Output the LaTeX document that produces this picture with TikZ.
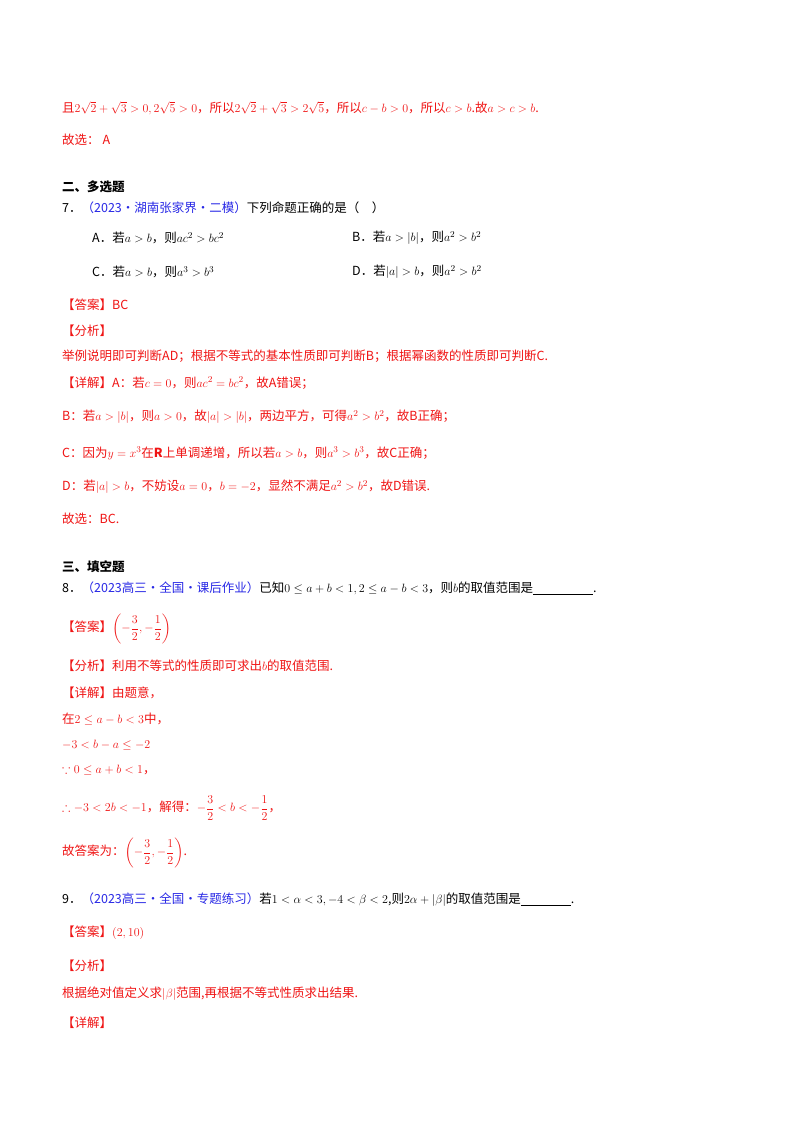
\documentclass[tikz,border=0pt]{standalone}
\usepackage{fontspec}
\setmainfont{Noto Sans CJK SC}
\newfontfamily\cjkb[BoldFont={Noto Sans CJK SC Bold}]{Noto Sans CJK SC}
\usepackage{amsmath,amssymb}
\definecolor{rd}{RGB}{240,20,20}
\definecolor{bl}{RGB}{40,40,230}
\begin{document}
\begin{tikzpicture}[x=1pt,y=1pt,
  ln/.style={anchor=west,inner sep=0pt,font=\fontsize{12.5}{14}\selectfont},
  r/.style={ln,text=rd}]
\useasboundingbox (0,0) rectangle (800,1132);
\fill[white] (0,0) rectangle (800,1132);
\newcommand\Y[1]{1132-#1}
\node[r] (l1) at (62,\Y{108}) {且$2\sqrt2+\sqrt3>0,2\sqrt5>0$，所以$2\sqrt2+\sqrt3>2\sqrt5$，所以$c-b>0$，所以$c>b$.故$a>c>b$.};
\node[r] (l2) at (62,\Y{140}) {故选：\ A};
\node[ln] (h2) at (62,\Y{187}) {\bfseries 二、多选题};
\node[ln] (q7) at (62,\Y{208}) {7．\textcolor{bl}{（2023·湖南张家界·二模）}下列命题正确的是（\quad ）};
\node[ln] (qa) at (92,\Y{238}) {A．若$a>b$，则$ac^2>bc^2$};
\node[ln] (qb) at (352,\Y{238}) {B．若$a>|b|$，则$a^2>b^2$};
\node[ln] (qc) at (92,\Y{272}) {C．若$a>b$，则$a^3>b^3$};
\node[ln] (qd) at (352,\Y{272}) {D．若$|a|>b$，则$a^2>b^2$};
\node[r] (a7) at (62,\Y{305}) {【答案】BC};
\node[r] (f7) at (62,\Y{331}) {【分析】};
\node[r] (f7b) at (62,\Y{356}) {举例说明即可判断AD；根据不等式的基本性质即可判断B；根据幂函数的性质即可判断C.};
\node[r] (d7) at (62,\Y{383}) {【详解】A：若$c=0$，则$ac^2=bc^2$，故A错误；};
\node[r] (d7b) at (62,\Y{417}) {B：若$a>|b|$，则$a>0$，故$|a|>|b|$，两边平方，可得$a^2>b^2$，故B正确；};
\node[r] (d7c) at (62,\Y{453}) {C：因为$y=x^3$在$\mathbf R$上单调递增，所以若$a>b$，则$a^3>b^3$，故C正确；};
\node[r] (d7d) at (62,\Y{487}) {D：若$|a|>b$，不妨设$a=0$，$b=-2$，显然不满足$a^2>b^2$，故D错误.};
\node[r] (s7) at (62,\Y{519}) {故选：BC.};
\node[ln] (h3) at (62,\Y{567}) {\bfseries 三、填空题};
\node[ln] (q8) at (62,\Y{588}) {8．\textcolor{bl}{（2023高三·全国·课后作业）}已知$0\le a+b<1,2\le a-b<3$，则$b$的取值范围是\rule[-2pt]{60pt}{0.6pt}.};
\node[r] (a8) at (62,\Y{629}) {【答案】$\left(-\dfrac32,-\dfrac12\right)$};
\node[r] (f8) at (62,\Y{666}) {【分析】利用不等式的性质即可求出$b$的取值范围.};
\node[r] (d8) at (62,\Y{693}) {【详解】由题意，};
\node[r] (d8b) at (62,\Y{719}) {在$2\le a-b<3$中，};
\node[r] (d8c) at (62,\Y{745}) {$-3<b-a\le-2$};
\node[r] (d8d) at (62,\Y{770}) {$\because 0\le a+b<1$，};
\node[r] (d8e) at (62,\Y{808}) {$\therefore -3<2b<-1$，解得：$-\dfrac32<b<-\dfrac12$，};
\node[r] (d8f) at (62,\Y{853}) {故答案为：$\left(-\dfrac32,-\dfrac12\right)$.};
\node[ln] (q9) at (62,\Y{900}) {9．\textcolor{bl}{（2023高三·全国·专题练习）}若$1<\alpha<3,-4<\beta<2$,则$2\alpha+|\beta|$的取值范围是\rule[-2pt]{50pt}{0.6pt}.};
\node[r] (a9) at (62,\Y{933}) {【答案】$(2,10)$};
\node[r] (f9) at (62,\Y{966}) {【分析】};
\node[r] (f9b) at (62,\Y{994}) {根据绝对值定义求$|\beta|$范围,再根据不等式性质求出结果.};
\node[r] (d9) at (62,\Y{1023}) {【详解】};
\end{tikzpicture}
\end{document}
